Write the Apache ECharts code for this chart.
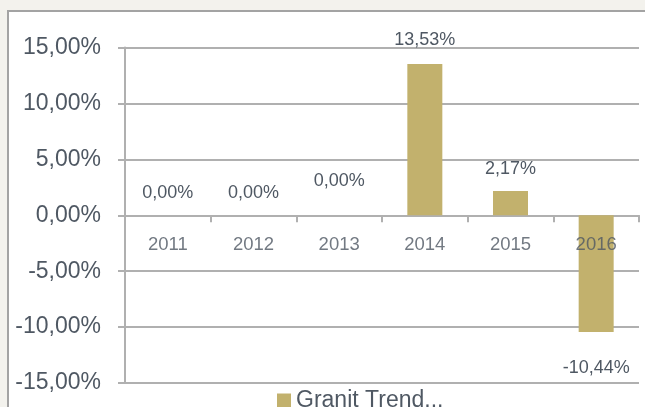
<!DOCTYPE html>
<html>
<head>
<meta charset="utf-8">
<script src="https://cdn.jsdelivr.net/npm/echarts@6/dist/echarts.min.js"></script>
<style>
  html, body { margin: 0; padding: 0; background: #f3f2ed; overflow: hidden; }
  .panel {
    position: absolute; left: 7px; top: 10px; width: 700px; height: 460px;
    background: #fff; border: 2px solid #a3a3a3;
  }
  #chart { position: absolute; left: 0; top: 0; width: 645px; height: 407px; }
</style>
</head>
<body>
<div class="panel"></div>
<div id="chart"></div>
<script>
const years = ['2011', '2012', '2013', '2014', '2015', '2016']
const trend = [0, 0, 0, 13.53, 2.17, -10.44]
const seriesName = 'Granit Trend...'

const textColor = '#4f5863'
const gridColor = '#b0b0b0'
const barColor = '#c2b16d'

const fmt = (v, digits) => v.toFixed(digits).replace('.', ',') + '%'

// label distance per bar (2013 label sits higher in the original)
const labelDist = [13, 13, 25, 15, 13, 27]

const chart = echarts.init(document.getElementById('chart'))

chart.setOption({
  animation: false,
  backgroundColor: 'transparent',
  textStyle: { fontFamily: 'Liberation Sans' },
  grid: { left: 125, right: 6, top: 47.5, bottom: 24, containLabel: false, outerBoundsMode: 'none' },
  legend: {
    left: 272,
    top: 384,
    icon: 'rect',
    itemWidth: 14,
    itemHeight: 14,
    itemGap: 7,
    textStyle: { color: textColor, fontSize: 23, fontFamily: 'Liberation Sans' },
    data: [seriesName]
  },
  xAxis: {
    type: 'category',
    data: years,
    axisLine: { onZero: true, lineStyle: { color: gridColor, width: 2 } },
    axisTick: { show: true, length: 7, lineStyle: { color: gridColor, width: 2 } },
    axisLabel: { show: false },
    splitLine: { show: false }
  },
  yAxis: {
    type: 'value',
    min: -15,
    max: 15,
    interval: 5,
    axisLine: { show: true, lineStyle: { color: gridColor, width: 2 } },
    axisTick: { show: true, length: 7, lineStyle: { color: gridColor, width: 2 } },
    axisLabel: { color: textColor, fontSize: 23, margin: 24, formatter: v => fmt(v, 2) },
    splitLine: { lineStyle: { color: gridColor, width: 2 } }
  },
  series: [
    {
      name: seriesName,
      type: 'bar',
      barWidth: 35,
      itemStyle: { color: barColor },
      data: trend.map((v, i) => ({
        value: v,
        label: {
          show: true,
          position: v < 0 ? 'bottom' : 'top',
          distance: labelDist[i],
          color: textColor,
          fontSize: 18,
          formatter: p => fmt(p.value, 2)
        }
      }))
    },
    {
      // category labels sitting under the zero line
      name: 'years',
      type: 'scatter',
      z: 5,
      symbolSize: 0,
      silent: true,
      data: years.map(y => [y, 0]),
      label: {
        show: true,
        position: 'bottom',
        distance: 20,
        color: textColor,
        fontSize: 18.5,
        formatter: p => p.name || p.value[0]
      }
    }
  ]
})
</script>
</body>
</html>
